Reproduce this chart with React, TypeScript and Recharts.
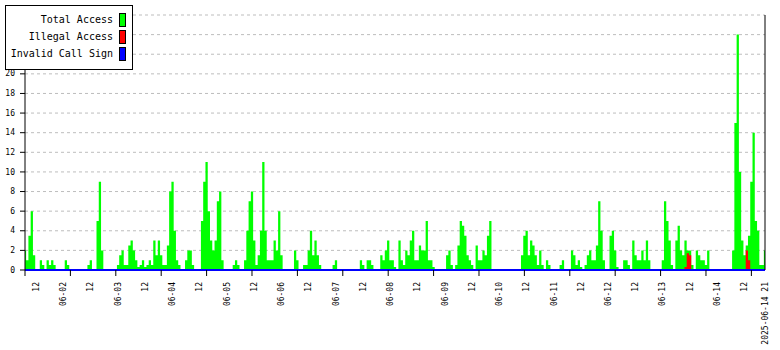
import React from "react";
import { ComposedChart, Area, Line, XAxis, YAxis, CartesianGrid, ReferenceLine } from "recharts";

// Hourly samples starting 2025-06-01 07:00 (index 0) up to 2025-06-14 21:00 (index 326)
const totalAccess: number[] = [
  2, 1, 3.5, 6, 1.5, 0, 0, 1, 0.5, 0,
  1, 0.5, 1, 0.5, 0, 0, 0, 0, 1, 0.5,
  0, 0, 0, 0, 0, 0, 0, 0, 0.5, 1,
  0, 0, 5, 9, 2, 0, 0, 0, 0, 0,
  0, 0.5, 1.5, 2, 0.5, 0.5, 2.5, 3, 2, 1,
  0.3, 0.5, 1, 0.3, 0.5, 1, 0.5, 3, 1.5, 3,
  1.5, 0.5, 0.5, 2.5, 8, 9, 4, 1, 0.5, 0,
  0, 1, 2, 2, 0.5, 0, 0, 0, 5, 9,
  11, 6, 3, 2, 3, 7, 8, 1, 0, 0,
  0, 0, 0.5, 1, 0.5, 0, 0, 1, 4, 7,
  8, 3, 0.5, 1.5, 4, 11, 4, 1, 1, 1,
  3, 2, 6, 1.5, 0, 0, 0, 0, 0, 2,
  1, 0, 0, 0.5, 0.5, 2, 4, 1.5, 3, 1.5,
  0.5, 0, 0, 0, 0, 0, 0.5, 1, 0, 0,
  0, 0, 0, 0, 0, 0, 0, 0, 1, 0.5,
  0, 1, 1, 0.5, 0, 0, 0, 1.5, 1, 2,
  3, 1, 1, 0.3, 0, 3, 1, 0.5, 2, 1.5,
  3, 4, 1, 1, 2.5, 2, 2, 5, 1, 1,
  0.3, 0, 0, 0, 0, 0, 1.5, 2, 0.5, 0,
  0.5, 2.5, 5, 4.5, 3.5, 1.5, 1, 0.5, 0, 2.5,
  1, 1, 2, 1.5, 3.5, 5, 0, 0, 0, 0,
  0, 0, 0, 0, 0, 0, 0, 0, 0, 1.5,
  3.5, 4, 1.5, 3, 2.5, 1.5, 0.5, 2, 0.5, 0,
  1, 0.5, 0, 0, 0, 0, 0.5, 1, 0, 0,
  0, 2, 1.5, 0.5, 1, 0.3, 0, 0.5, 1.5, 2,
  1, 1, 2.5, 7, 4, 1, 0, 0, 3.5, 4,
  2, 0.3, 0, 0, 1, 1, 0.5, 0, 3, 1.5,
  1, 1, 2, 1, 3, 1, 0, 0, 0, 0,
  0, 1, 7, 5, 3, 0.5, 0, 3, 4.5, 2,
  1.5, 3, 2, 2, 0.5, 0, 2, 1.5, 1, 1,
  0.5, 2, 0, 0, 0, 0, 0, 0, 0, 0,
  0, 0, 2, 15, 24, 10, 3, 1.5, 2.5, 3.5,
  9, 14, 5, 4, 0.5, 0.5, 2,
];

const illegalAccess: number[] = [
  0, 0, 0, 0, 0, 0, 0, 0, 0, 0,
  0, 0, 0, 0, 0, 0, 0, 0, 0, 0,
  0, 0, 0, 0, 0, 0, 0, 0, 0, 0,
  0, 0, 0, 0, 0, 0, 0, 0, 0, 0,
  0, 0, 0, 0, 0, 0, 0, 0, 0, 0,
  0, 0, 0, 0, 0, 0, 0, 0, 0, 0,
  0, 0, 0, 0, 0, 0, 0, 0, 0, 0,
  0, 0, 0, 0, 0, 0, 0, 0, 0, 0,
  0, 0, 0, 0, 0, 0, 0, 0, 0, 0,
  0, 0, 0, 0, 0, 0, 0, 0, 0, 0,
  0, 0, 0, 0, 0, 0, 0, 0, 0, 0,
  0, 0, 0, 0, 0, 0, 0, 0, 0, 0,
  0, 0, 0, 0, 0, 0, 0, 0, 0, 0,
  0, 0, 0, 0, 0, 0, 0, 0, 0, 0,
  0, 0, 0, 0, 0, 0, 0, 0, 0, 0,
  0, 0, 0, 0, 0, 0, 0, 0, 0, 0,
  0, 0, 0, 0, 0, 0, 0, 0, 0, 0,
  0, 0, 0, 0, 0, 0, 0, 0, 0, 0,
  0, 0, 0, 0, 0, 0, 0, 0, 0, 0,
  0, 0, 0, 0, 0, 0, 0, 0, 0, 0,
  0, 0, 0, 0, 0, 0, 0, 0, 0, 0,
  0, 0, 0, 0, 0, 0, 0, 0, 0, 0,
  0, 0, 0, 0, 0, 0, 0, 0, 0, 0,
  0, 0, 0, 0, 0, 0, 0, 0, 0, 0,
  0, 0, 0, 0, 0, 0, 0, 0, 0, 0,
  0, 0, 0, 0, 0, 0, 0, 0, 0, 0,
  0, 0, 0, 0, 0, 0, 0, 0, 0, 0,
  0, 0, 0, 0, 0, 0, 0, 0, 0, 0,
  0, 0, 0, 0, 0, 0, 0, 0, 0, 0,
  0, 0.3, 1.7, 1.5, 0, 0, 0, 0, 0, 0,
  0, 0, 0, 0, 0, 0, 0, 0, 0, 0,
  0, 0, 0, 0, 0, 0, 0, 0, 2, 1,
  0, 0, 0, 0, 0, 0, 0,
];

const invalidCallSign: number[] = [
  0, 0, 0, 0, 0, 0, 0, 0, 0, 0,
  0, 0, 0, 0, 0, 0, 0, 0, 0, 0,
  0, 0, 0, 0, 0, 0, 0, 0, 0, 0,
  0, 0, 0, 0, 0, 0, 0, 0, 0, 0,
  0, 0, 0, 0, 0, 0, 0, 0, 0, 0,
  0, 0, 0, 0, 0, 0, 0, 0, 0, 0,
  0, 0, 0, 0, 0, 0, 0, 0, 0, 0,
  0, 0, 0, 0, 0, 0, 0, 0, 0, 0,
  0, 0, 0, 0, 0, 0, 0, 0, 0, 0,
  0, 0, 0, 0, 0, 0, 0, 0, 0, 0,
  0, 0, 0, 0, 0, 0, 0, 0, 0, 0,
  0, 0, 0, 0, 0, 0, 0, 0, 0, 0,
  0, 0, 0, 0, 0, 0, 0, 0, 0, 0,
  0, 0, 0, 0, 0, 0, 0, 0, 0, 0,
  0, 0, 0, 0, 0, 0, 0, 0, 0, 0,
  0, 0, 0, 0, 0, 0, 0, 0, 0, 0,
  0, 0, 0, 0, 0, 0, 0, 0, 0, 0,
  0, 0, 0, 0, 0, 0, 0, 0, 0, 0,
  0, 0, 0, 0, 0, 0, 0, 0, 0, 0,
  0, 0, 0, 0, 0, 0, 0, 0, 0, 0,
  0, 0, 0, 0, 0, 0, 0, 0, 0, 0,
  0, 0, 0, 0, 0, 0, 0, 0, 0, 0,
  0, 0, 0, 0, 0, 0, 0, 0, 0, 0,
  0, 0, 0, 0, 0, 0, 0, 0, 0, 0,
  0, 0, 0, 0, 0, 0, 0, 0, 0, 0,
  0, 0, 0, 0, 0, 0, 0, 0, 0, 0,
  0, 0, 0, 0, 0, 0, 0, 0, 0, 0,
  0, 0, 0, 0, 0, 0, 0, 0, 0, 0,
  0, 0, 0, 0, 0, 0, 0, 0, 0, 0,
  0, 0, 0, 0, 0, 0, 0, 0, 0, 0,
  0, 0, 0, 0, 0, 0, 0, 0, 0, 0,
  0, 0, 0, 0, 0, 0, 0, 0, 0, 0,
  0, 0, 0, 0, 0, 0, 0,
];

// x tick labels (every 12 hours, first at 06-01 12:00 = hour 5)
const timeLabels: string[] = [
  "12", "06-02", "12", "06-03", "12", "06-04", "12", "06-05", "12",
  "06-06", "12", "06-07", "12", "06-08", "12", "06-09", "12", "06-10",
  "12", "06-11", "12", "06-12", "12", "06-13", "12", "06-14", "12",
];
const firstLabelHour = 5;
const labelEveryHours = 12;
const endLabel = "2025-06-14 21";
const tickMarkEvery = 20;
const yTicks: number[] = [0, 2, 4, 6, 8, 10, 12, 14, 16, 18, 20, 22, 24, 26];
const yLabelMax = 20; // labels above are hidden behind the legend box

const seriesNames = ["Total Access", "Illegal Access", "Invalid Call Sign"];
const seriesColors = ["#00ff00", "#ff0000", "#0000ff"];

const lastIdx = totalAccess.length - 1;

const data = totalAccess.map((v, i) => ({
  idx: i,
  total: v,
  illegal: illegalAccess[i],
  invalid: invalidCallSign[i],
}));

const labelMap = new Map<number, string>();
timeLabels.forEach((l, k) => labelMap.set(firstLabelHour + k * labelEveryHours, l));
labelMap.set(lastIdx, endLabel);

const tickSet = new Set<number>();
for (let t = 0; t <= lastIdx; t += tickMarkEvery) tickSet.add(t);
labelMap.forEach((_, k) => tickSet.add(k));
const xTicks = Array.from(tickSet).sort((a, b) => a - b);

const FONT = "'DejaVu Sans Mono', monospace";

const XTick = (props: any) => {
  const { x, y, payload } = props;
  const v = payload.value;
  const label = labelMap.get(v);
  const ty = y + 12;
  return (
    <g>
      {v % tickMarkEvery === 0 && (
        <line x1={x} x2={x} y1={y} y2={y + 6} stroke="#000" strokeWidth={1} />
      )}
      {label && (
        <text
          x={x}
          y={ty}
          transform={`rotate(-90 ${x} ${ty})`}
          textAnchor="end"
          dy="0.33em"
          fontSize={8}
          fontFamily={FONT}
          fill="#000"
        >
          {label}
        </text>
      )}
    </g>
  );
};

const YTick = (props: any) => {
  const { x, y, payload } = props;
  if (payload.value > yLabelMax) return <g />;
  return (
    <text x={x} y={y} dy="0.33em" textAnchor="end" fontSize={8} fontFamily={FONT} fill="#000">
      {payload.value}
    </text>
  );
};

export default function App() {
  return (
    <div style={{ position: "absolute", left: 0, top: 0, width: 780, height: 350, background: "#fff" }}>
      <ComposedChart
        width={780}
        height={350}
        data={data}
        margin={{ top: 15, right: 15, bottom: 0, left: 0 }}
      >
        <CartesianGrid
          horizontal={true}
          vertical={false}
          stroke="#bdbdbd"
          strokeDasharray="3 3"
        />
        <XAxis
          dataKey="idx"
          type="number"
          domain={[0, lastIdx]}
          ticks={xTicks}
          interval={0}
          tickSize={0}
          tickMargin={0}
          tickLine={false}
          axisLine={false}
          height={80}
          tick={<XTick />}
          allowDecimals={false}
        />
        <YAxis
          type="number"
          domain={[0, 26]}
          ticks={yTicks}
          interval={0}
          width={25}
          tickSize={5}
          tickMargin={5}
          tickLine={{ stroke: "#000" }}
          axisLine={{ stroke: "#000" }}
          tick={<YTick />}
        />
        <Area
          type="step"
          dataKey="total"
          stroke="none"
          fill={seriesColors[0]}
          fillOpacity={1}
          baseValue={0}
          isAnimationActive={false}
          dot={false}
          activeDot={false}
        />
        <Area
          type="step"
          dataKey="illegal"
          stroke="none"
          fill={seriesColors[1]}
          fillOpacity={1}
          baseValue={0}
          isAnimationActive={false}
          dot={false}
          activeDot={false}
        />
        <Line
          type="linear"
          dataKey="invalid"
          stroke={seriesColors[2]}
          strokeWidth={2}
          dot={false}
          activeDot={false}
          isAnimationActive={false}
        />
        <ReferenceLine x={lastIdx} stroke="#000" strokeWidth={1} />
      </ComposedChart>
      <div
        style={{
          position: "absolute",
          left: 5,
          top: 5,
          width: 128,
          height: 65,
          border: "1px solid #000",
          background: "#fff",
          boxSizing: "border-box",
        }}
      />
      {seriesNames.map((name, k) => (
        <React.Fragment key={name}>
          <div
            style={{
              position: "absolute",
              left: 0,
              width: 113,
              top: 20 + k * 17 - 7,
              height: 14,
              lineHeight: "14px",
              textAlign: "right",
              fontFamily: FONT,
              fontSize: 10,
              color: "#000",
              whiteSpace: "nowrap",
            }}
          >
            {name}
          </div>
          <div
            style={{
              position: "absolute",
              left: 119,
              top: 20 + k * 17 - 7,
              width: 7,
              height: 14,
              background: seriesColors[k],
              border: "1px solid #000",
              boxSizing: "border-box",
            }}
          />
        </React.Fragment>
      ))}
    </div>
  );
}
